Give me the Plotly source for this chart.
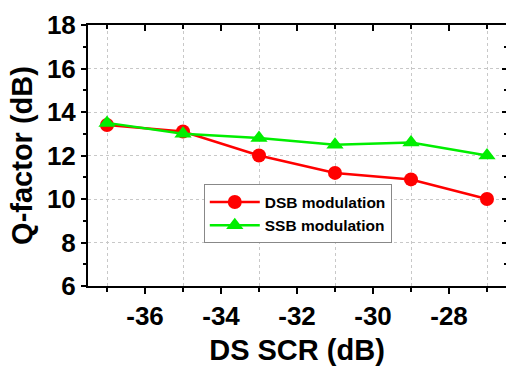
import plotly.graph_objects as go

x_scr = [-37, -35, -33, -31, -29, -27]
dsb_q = [13.4, 13.1, 12.0, 11.2, 10.9, 10.0]
ssb_q = [13.5, 13.0, 12.8, 12.5, 12.6, 12.0]
x_ticks = [-36, -34, -32, -30, -28]
y_ticks = [6, 8, 10, 12, 14, 16, 18]

FONT = "Arial, Liberation Sans, sans-serif"
XR = [-37.5, -26.5]
YR = [6, 18]

fig = go.Figure()
fig.add_trace(go.Scatter(x=x_scr, y=dsb_q, mode="lines+markers", name="DSB modulation",
                         line=dict(color="#ff0000", width=2.5),
                         marker=dict(symbol="circle", size=14, color="#ff0000")))
fig.add_trace(go.Scatter(x=x_scr, y=ssb_q, mode="lines+markers", name="SSB modulation",
                         line=dict(color="#00ee00", width=2.5),
                         marker=dict(symbol="triangle-up", size=15, color="#00ee00")))
# invisible trace so the mirrored (inside-tick) axes are drawn
fig.add_trace(go.Scatter(x=x_scr, y=dsb_q, mode="lines", opacity=0, showlegend=False,
                         hoverinfo="skip", xaxis="x2", yaxis="y2"))

tickfont = dict(family=FONT, size=26, color="black", weight="bold")
titlefont = dict(family=FONT, size=29, color="black", weight="bold")

fig.update_layout(
    width=506, height=366,
    margin=dict(l=88, r=0, t=25, b=80),
    paper_bgcolor="white", plot_bgcolor="white",
    showlegend=True,
    legend=dict(x=0.277, y=0.389, xanchor="left", yanchor="top",
                bordercolor="#888888", borderwidth=1, bgcolor="white",
                font=dict(family=FONT, size=15.5, color="black", weight="bold"),
                tracegroupgap=0, itemwidth=50),
    xaxis=dict(range=XR, tickvals=x_ticks, ticktext=[str(v) for v in x_ticks],
               showgrid=False, zeroline=False, automargin=False,
               showline=True, linecolor="black", linewidth=2, mirror=True,
               ticks="outside", ticklen=6, tickwidth=1.5, tickcolor="black",
               tickfont=tickfont,
               minor=dict(tickvals=x_scr, ticks="outside", ticklen=4, tickcolor="black",
                          showgrid=True, gridcolor="#c8c8c8", griddash="dot", gridwidth=1),
               title=dict(text="DS SCR (dB)", standoff=12, font=titlefont)),
    yaxis=dict(range=YR, tickvals=y_ticks,
               showgrid=True, gridcolor="#c8c8c8", griddash="dot", gridwidth=1,
               zeroline=False, automargin=False,
               showline=True, linecolor="black", linewidth=2, mirror=False,
               ticks="outside", ticklen=5, tickwidth=1.5, tickcolor="black",
               tickfont=tickfont,
               minor=dict(dtick=1, ticks="outside", ticklen=3, tickcolor="black", showgrid=False),
               title=dict(text="Q-factor (dB)", standoff=6, font=titlefont)),
    xaxis2=dict(range=XR, overlaying="x", side="top", anchor="y2", tickvals=x_ticks,
                showticklabels=False, showgrid=False, zeroline=False, showline=False,
                ticks="inside", ticklen=6, tickwidth=1.5, tickcolor="black", automargin=False,
                minor=dict(tickvals=x_scr, ticks="inside", ticklen=4, tickcolor="black", showgrid=False)),
    yaxis2=dict(range=YR, overlaying="y", side="right", anchor="x2", tickvals=y_ticks,
                showticklabels=False, showgrid=False, zeroline=False, showline=False,
                ticks="inside", ticklen=4, tickwidth=1.5, tickcolor="black", automargin=False,
                minor=dict(dtick=1, ticks="inside", ticklen=2, tickcolor="black", showgrid=False)),
)

fig.write_html("out.html")
